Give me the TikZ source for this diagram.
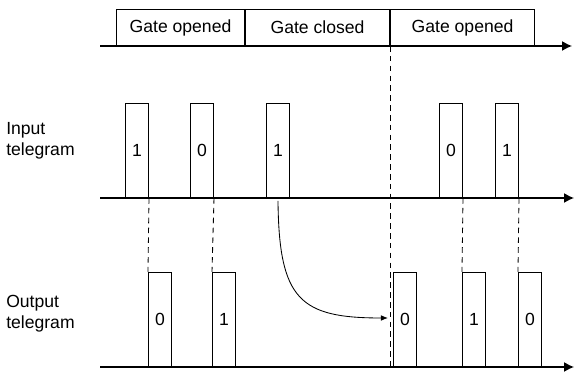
\documentclass[tikz,border=0pt]{standalone}
\usepackage{fontspec}
\setmainfont{Liberation Sans}
\usepackage{tikz}
\usetikzlibrary{arrows,arrows.meta,shapes,positioning,calc}

\begin{document}
\begin{tikzpicture}[
    x=0.025cm,
    y=-0.025cm,
    every node/.style={
        inner sep=0pt,
        font=\fontsize{12.5}{15}\selectfont
    },
    gatebox/.style={
        rectangle,
        draw,
        line width=0.7pt,
        minimum height=0.9cm,
        anchor=south west
    },
    pulse/.style={
        rectangle,
        draw,
        line width=0.7pt,
        minimum width=0.575cm,
        minimum height=2.35cm,
        anchor=south west
    },
    axis/.style={line width=0.9pt,-{Latex[length=7pt,width=7pt]}},
    guide/.style={dashed,line width=0.6pt,dash pattern=on 4pt off 3pt}
]
\useasboundingbox (0,0) rectangle (574,373);

% ---------------- Gate ----------------
\coordinate (g0) at (100,46);
\coordinate (g1) at (572,46);
\node[gatebox, minimum width=3.2cm] (ga) at (116,46) {Gate opened};
\node[gatebox, minimum width=3.6cm] (gb) at (ga.south east) {Gate closed};
\node[gatebox, minimum width=3.6cm] (gc) at (gb.south east) {Gate opened};
\draw[axis] (g0) -- (g1);

% ---------------- Input telegram ----------------
\coordinate (i0) at (100,198);
\coordinate (i1) at (574,198);
\node[anchor=west, align=left] (inlbl) at (6,141) {Input\\telegram};
\node[pulse] (in1) at (125,198) {1};
\node[pulse] (in2) at (190,198) {0};
\node[pulse] (in3) at (266,198) {1};
\node[pulse] (in4) at (439,198) {0};
\node[pulse] (in5) at (495,198) {1};
\draw[axis] (i0) -- (i1);

% ---------------- Output telegram ----------------
\coordinate (o0) at (100,367);
\coordinate (o1) at (574,367);
\node[anchor=west, align=left] (outlbl) at (6,314) {Output\\telegram};
\node[pulse] (out1) at (148,367) {0};
\node[pulse] (out2) at (212,367) {1};
\node[pulse] (out3) at (393,367) {0};
\node[pulse] (out4) at (462,367) {1};
\node[pulse] (out5) at (518,367) {0};
\draw[axis] (o0) -- (o1);

% ---------------- Delays ----------------
\draw[guide] (in1.south east) -- (out1.north west);
\draw[guide] (in2.south east) -- (out2.north west);
\draw[guide] (in4.south east) -- (out4.north west);
\draw[guide] (in5.south east) -- (out5.north west);
\coordinate (gend) at (gb.south east |- o0);
\draw[guide] (gb.south east) -- (gend);

% ---------------- Held telegram ----------------
\coordinate (held) at (388,318);
\draw[line width=0.6pt,-{Latex[length=5pt,width=4pt]}]
    ([yshift=-2pt]in3.south) .. controls (279,300) and (300,318) .. (held);

\end{tikzpicture}
\end{document}
